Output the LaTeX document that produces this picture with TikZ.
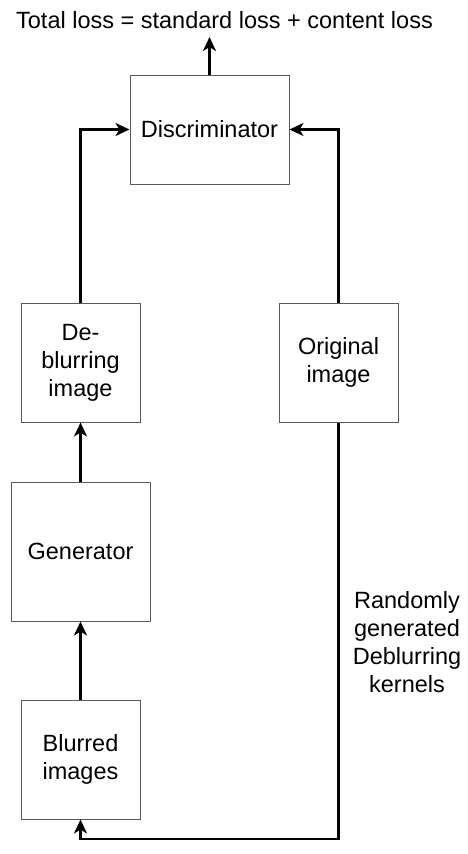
\documentclass[tikz,border=0pt]{standalone}
\usepackage{fontspec}
\setmainfont{Liberation Sans}
\usetikzlibrary{arrows.meta,positioning}
\tikzset{
  blk/.style={rectangle,draw=black!65,line width=1pt,inner sep=0pt,align=center,font=\fontsize{23.5}{28}\selectfont},
  lbl/.style={inner sep=0pt,align=center,font=\fontsize{23.5}{28}\selectfont},
  arr/.style={-{Stealth[length=14pt,width=13pt,inset=4pt]},line width=2.6pt}
}
\begin{document}
\begin{tikzpicture}[x=1pt,y=-1pt]
\useasboundingbox (0,0) rectangle (468,854);
\node[lbl,anchor=base] (loss) at (224.5,28) {Total loss = standard loss + content loss};
\node[blk,minimum width=159pt,minimum height=109pt] (disc)   at (209.5,129.5) {Discriminator};
\node[blk,minimum width=119pt,minimum height=119pt] (deblur) at (80.5,362.5)  {De-\\blurring\\image};
\node[blk,minimum width=119pt,minimum height=119pt] (orig)   at (338.5,362.5) {Original\\image};
\node[blk,minimum width=139pt,minimum height=139pt] (gen)    at (80.5,551.5)  {Generator};
\node[blk,minimum width=119pt,minimum height=119pt] (blur)   at (80.5,759.5)  {Blurred\\images};
\node[lbl] (kern) at (407,642) {Randomly\\generated\\Deblurring\\kernels};
\coordinate (top)  at (209.5,37);
\coordinate (bend) at (80.5,839);
\draw[arr] (disc) -- (top);
\draw[arr] (deblur) |- (disc);
\draw[arr] (orig) |- (disc);
\draw[arr] (gen) -- (deblur);
\draw[arr] (blur) -- (gen);
\draw[arr] (orig) |- (bend) -- (blur);
\end{tikzpicture}
\end{document}
